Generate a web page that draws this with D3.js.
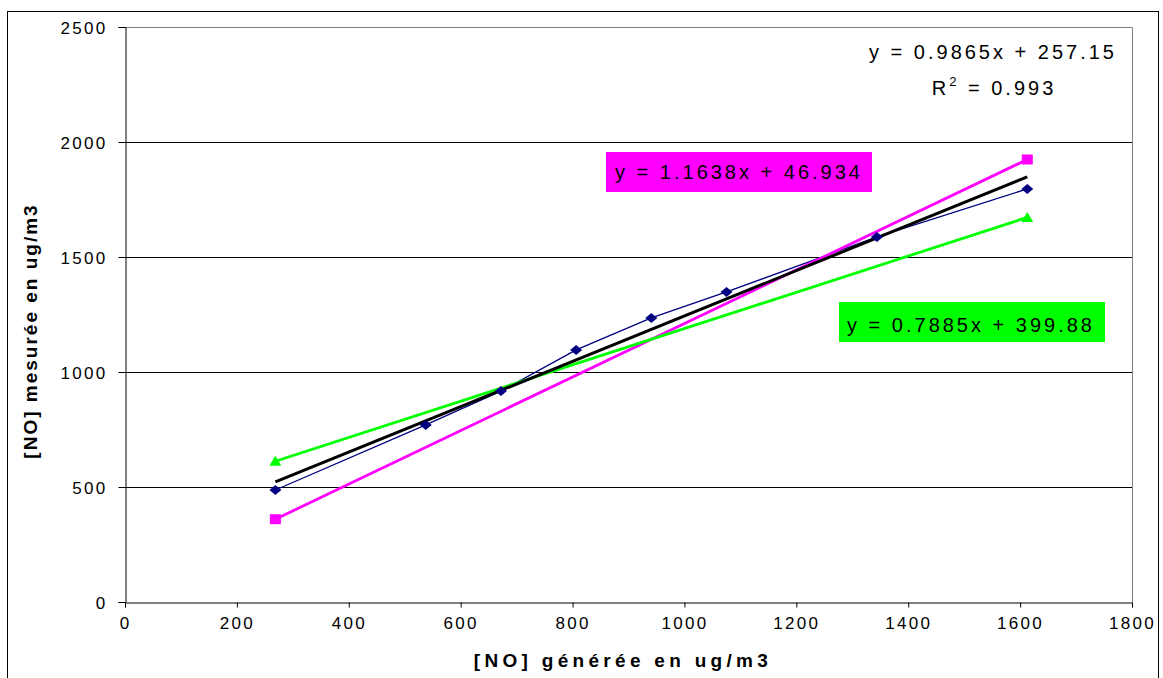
<!DOCTYPE html>
<html>
<head>
<meta charset="utf-8">
<script src="https://cdn.jsdelivr.net/npm/d3@7"></script>
<style>
  body { margin: 0; background: #fff; }
  text { font-family: "Liberation Sans", Arial, sans-serif; }
</style>
</head>
<body>
<div id="chart"></div>
<script>
// generated concentration (x) and measured values
var xGen = [268.8, 537.6, 672, 806.4, 940.8, 1075.2, 1344, 1612.8];
var yMes = [487, 770, 917, 1096, 1235, 1348, 1587, 1796];

// the two extreme series, only first and last point
var xEnds = [268.8, 1612.8];
var yHigh = [360, 1924];
var yLow = [612, 1672];

// trendline of the measured series: slope, intercept
var trend = [0.9865, 257.15];

var xTicks = [0, 200, 400, 600, 800, 1000, 1200, 1400, 1600, 1800];
var yTicks = [0, 500, 1000, 1500, 2000, 2500];

function drawChart() {
  // careful: a global named "top" is window.top, so keep these local
  var width = 1163, height = 678;
  var pLeft = 125, pRight = 1132, pTop = 27, pBottom = 602;

  var svg = d3.select("#chart").append("svg")
      .attr("width", width)
      .attr("height", height);

  var x = d3.scaleLinear().domain([0, 1800]).range([pLeft, pRight]);
  var y = d3.scaleLinear().domain([0, 2500]).range([pBottom, pTop]);

  // outer chart frame
  svg.append("rect")
      .attr("x", 7.5).attr("y", 11.5)
      .attr("width", 1151).attr("height", 700)
      .attr("fill", "none").attr("stroke", "#000");

  // gridlines
  svg.append("g")
    .selectAll("line")
    .data(yTicks.filter(function(d){ return d > 0 && d < 2500; }))
    .enter().append("line")
      .attr("x1", pLeft).attr("x2", pRight)
      .attr("y1", function(d){ return Math.round(y(d)) + 0.5; })
      .attr("y2", function(d){ return Math.round(y(d)) + 0.5; })
      .attr("stroke", "#000");

  // plot area border (top + right) in grey
  svg.append("path")
      .attr("d", "M" + pLeft + "," + (pTop + 0.5) + "H" + (pRight + 0.5) + "V" + pBottom)
      .attr("fill", "none").attr("stroke", "#808080");

  var xAxis = svg.append("g")
      .attr("transform", "translate(0," + (pBottom + 0.5) + ")")
      .call(d3.axisBottom(x).tickValues(xTicks).tickSize(5).tickPadding(9).tickFormat(d3.format("d")));

  var yAxis = svg.append("g")
      .attr("transform", "translate(" + (pLeft + 0.5) + ",0)")
      .call(d3.axisLeft(y).tickValues(yTicks).tickSize(7).tickPadding(11).tickFormat(d3.format("d")));

  [xAxis, yAxis].forEach(function(a) {
    a.select(".domain").attr("stroke", "#000");
    a.selectAll(".tick line").attr("stroke", "#000");
    a.selectAll(".tick text")
      .attr("fill", "#000")
      .style("font-family", "'Liberation Sans', Arial, sans-serif")
      .style("font-size", "17px")
      .style("letter-spacing", "2.3px");
  });
  yAxis.selectAll(".tick text").attr("dy", "0.36em");

  var line = d3.line()
      .x(function(d){ return x(d[0]); })
      .y(function(d){ return y(d[1]); });

  var mesPts = d3.zip(xGen, yMes);
  var highPts = d3.zip(xEnds, yHigh);
  var lowPts = d3.zip(xEnds, yLow);
  var trendPts = xEnds.map(function(v){ return [v, trend[0] * v + trend[1]]; });

  svg.append("path").datum(mesPts)
      .attr("d", line).attr("fill", "none")
      .attr("stroke", "#000080").attr("stroke-width", 1.3);

  svg.append("path").datum(highPts)
      .attr("d", line).attr("fill", "none")
      .attr("stroke", "#ff00ff").attr("stroke-width", 2.8);

  svg.append("path").datum(lowPts)
      .attr("d", line).attr("fill", "none")
      .attr("stroke", "#00ff00").attr("stroke-width", 2.8);

  svg.append("path").datum(trendPts)
      .attr("d", line).attr("fill", "none")
      .attr("stroke", "#000").attr("stroke-width", 3);

  // markers
  svg.append("g").selectAll("path")
    .data(mesPts)
    .enter().append("path")
      .attr("d", "M0,-5L6,0L0,5L-6,0Z")
      .attr("transform", function(d){ return "translate(" + x(d[0]) + "," + y(d[1]) + ")"; })
      .attr("fill", "#000080");

  svg.append("g").selectAll("rect")
    .data(highPts)
    .enter().append("rect")
      .attr("x", function(d){ return x(d[0]) - 5.5; })
      .attr("y", function(d){ return y(d[1]) - 5; })
      .attr("width", 11).attr("height", 10)
      .attr("fill", "#ff00ff");

  svg.append("g").selectAll("path")
    .data(lowPts)
    .enter().append("path")
      .attr("d", "M0,-5.5L6,4.5L-6,4.5Z")
      .attr("transform", function(d){ return "translate(" + x(d[0]) + "," + y(d[1]) + ")"; })
      .attr("fill", "#00ff00");

  // equation labels
  var eqStyle = function(t) {
    t.style("font-size", "20px").style("letter-spacing", "3px").attr("fill", "#000");
  };

  svg.append("text")
      .attr("x", 993).attr("y", 59)
      .attr("text-anchor", "middle")
      .text("y = 0.9865x + 257.15")
      .call(eqStyle);

  var r2 = svg.append("text")
      .attr("x", 994).attr("y", 95)
      .attr("text-anchor", "middle")
      .call(eqStyle);
  r2.append("tspan").text("R");
  r2.append("tspan").attr("dy", -9).style("font-size", "13px").text("2");
  r2.append("tspan").attr("dy", 9).text(" = 0.993");

  svg.append("rect")
      .attr("x", 606).attr("y", 152).attr("width", 266).attr("height", 40)
      .attr("fill", "#ff00ff");
  svg.append("text")
      .attr("x", 739).attr("y", 179)
      .attr("text-anchor", "middle")
      .text("y = 1.1638x + 46.934")
      .call(eqStyle);

  svg.append("rect")
      .attr("x", 839).attr("y", 302).attr("width", 266).attr("height", 40)
      .attr("fill", "#00ff00");
  svg.append("text")
      .attr("x", 971).attr("y", 332)
      .attr("text-anchor", "middle")
      .text("y = 0.7885x + 399.88")
      .call(eqStyle);

  // axis titles
  svg.append("text")
      .attr("x", 623).attr("y", 667)
      .attr("text-anchor", "middle")
      .style("font-size", "19px").style("font-weight", "bold").style("letter-spacing", "4.3px")
      .text("[NO] générée en ug/m3");

  svg.append("text")
      .attr("transform", "translate(37,331) rotate(-90)")
      .attr("text-anchor", "middle")
      .style("font-size", "19px").style("font-weight", "bold").style("letter-spacing", "2px")
      .text("[NO] mesurée en ug/m3");
}

drawChart();
</script>
</body>
</html>
